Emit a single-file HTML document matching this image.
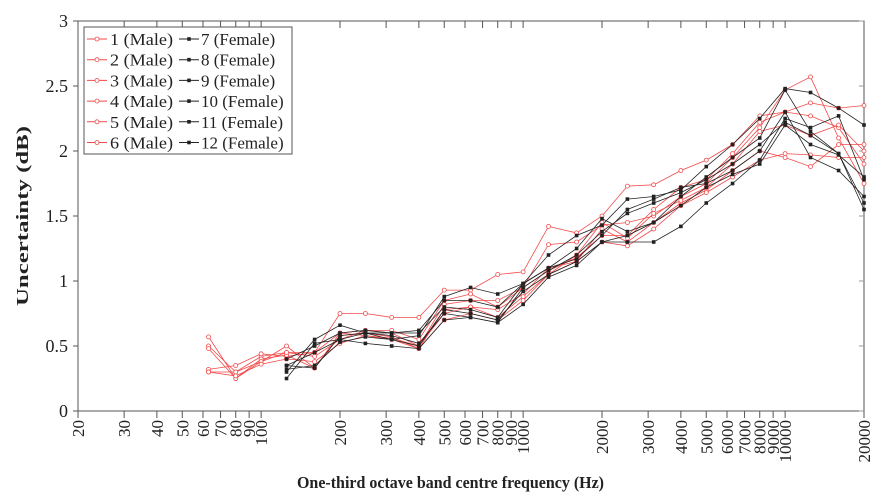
<!DOCTYPE html>
<html><head><meta charset="utf-8"><style>
body{margin:0;background:#fff}
svg{display:block;font-family:"Liberation Serif",serif}
</style></head><body>
<svg id="s" width="886" height="501" viewBox="0 0 886 501" xmlns="http://www.w3.org/2000/svg"></svg>
<script>
const s=document.getElementById('s');
const L=78,R=864,T=21,B=411;
const X=f=>L+262*Math.log10(f/20);
const Y=v=>B-130*v;
let h='';
h+=`<rect x="${L}" y="${T}" width="${R-L}" height="${B-T}" fill="none" stroke="#555" stroke-width="1"/>`;
for(let i=0;i<=6;i++){const v=i*0.5,y=Y(v);
h+=`<line x1="${L-5}" y1="${y}" x2="${L}" y2="${y}" stroke="#555"/><line x1="${R}" y1="${y}" x2="${R-5}" y2="${y}" stroke="#999"/>`;
h+=`<text x="${L-10}" y="${y+6}" font-size="18" text-anchor="end" fill="#222">${v}</text>`;}
const ticks=[20,30,40,50,60,70,80,90,100,200,300,400,500,600,700,800,900,1000,2000,3000,4000,5000,6000,7000,8000,9000,10000,20000];
ticks.forEach(f=>{const x=X(f);
h+=`<line x1="${x}" y1="${B}" x2="${x}" y2="${B+7}" stroke="#555"/><line x1="${x}" y1="${T}" x2="${x}" y2="${T+7}" stroke="#555"/>`;
h+=`<text transform="translate(${x+6},${B+9}) rotate(-90)" font-size="17" text-anchor="end" fill="#222">${f}</text>`;});
h+=`<text x="297" y="488" font-size="17" font-weight="bold" textLength="307" lengthAdjust="spacingAndGlyphs" fill="#222">One-third octave band centre frequency (Hz)</text>`;
h+=`<text transform="translate(28,306) rotate(-90)" font-size="17" font-weight="bold" textLength="180" lengthAdjust="spacingAndGlyphs" fill="#222">Uncertainty (dB)</text>`;
const F=[63,80,100,125,160,200,250,315,400,500,630,800,1000,1250,1600,2000,2500,3150,4000,5000,6300,8000,10000,12500,16000,20000];
const red=[
[0.5,0.3,0.42,0.45,0.45,0.75,0.75,0.72,0.72,0.93,0.93,1.05,1.07,1.42,1.37,1.5,1.73,1.74,1.85,1.93,2.05,2.27,2.3,2.37,2.33,2.35],
[0.57,0.25,0.38,0.5,0.33,0.6,0.62,0.6,0.5,0.82,0.85,0.85,0.95,1.28,1.3,1.43,1.45,1.5,1.65,1.75,1.95,2.18,2.47,2.57,2.1,1.75],
[0.32,0.35,0.44,0.42,0.45,0.6,0.58,0.55,0.48,0.78,0.8,0.78,0.9,1.1,1.15,1.4,1.3,1.45,1.6,1.7,1.85,2.0,1.95,1.88,2.05,2.05],
[0.48,0.25,0.4,0.43,0.33,0.58,0.6,0.57,0.48,0.7,0.75,0.7,0.85,1.05,1.15,1.3,1.27,1.4,1.58,1.68,1.8,1.93,1.98,1.97,1.95,1.95],
[0.3,0.3,0.38,0.45,0.42,0.55,0.62,0.62,0.55,0.85,0.9,0.8,0.95,1.08,1.18,1.35,1.35,1.55,1.72,1.78,1.98,2.22,2.3,2.27,2.18,1.9],
[0.3,0.27,0.36,0.4,0.38,0.52,0.58,0.56,0.5,0.75,0.8,0.72,0.88,1.05,1.2,1.45,1.33,1.52,1.62,1.72,1.9,2.15,2.2,2.12,2.2,2.0]];
const blk=[
[0.25,0.52,0.55,0.6,0.6,0.62,0.85,0.85,0.8,0.98,1.1,1.25,1.48,1.38,1.45,1.65,1.8,1.95,2.1,2.47,2.15,1.98,1.55],
[0.3,0.55,0.66,0.6,0.55,0.58,0.88,0.95,0.9,0.98,1.2,1.35,1.43,1.63,1.65,1.7,1.88,2.05,2.25,2.48,2.45,2.33,2.2],
[0.35,0.45,0.55,0.52,0.5,0.48,0.7,0.72,0.68,0.82,1.03,1.12,1.3,1.3,1.3,1.42,1.6,1.75,1.93,2.25,2.18,2.27,1.78],
[0.4,0.5,0.6,0.62,0.6,0.6,0.8,0.78,0.72,0.98,1.1,1.17,1.35,1.55,1.63,1.72,1.75,1.85,2.0,2.3,1.95,1.85,1.65],
[0.32,0.35,0.53,0.57,0.55,0.5,0.78,0.75,0.7,0.92,1.05,1.15,1.3,1.35,1.45,1.58,1.72,1.82,1.9,2.2,2.05,1.97,1.8],
[0.35,0.33,0.58,0.6,0.58,0.52,0.75,0.72,0.68,0.95,1.08,1.2,1.38,1.52,1.6,1.68,1.78,1.9,2.05,2.22,2.12,1.98,1.6]];
function mk(x,y,c,fill){return fill?`<rect x="${x-1.8}" y="${y-1.8}" width="3.6" height="3.6" fill="${c}"/>`:`<circle cx="${x}" cy="${y}" r="2" fill="#fff" stroke="${c}" stroke-width="0.8"/>`;}
function series(d,fr,c,fill){let p=d.map((v,i)=>X(fr[i]).toFixed(1)+','+Y(v).toFixed(1)).join(' ');
let o=`<polyline points="${p}" fill="none" stroke="${c}" stroke-width="0.8"/>`;
d.forEach((v,i)=>o+=mk(X(fr[i]),Y(v),c,fill));return o;}
red.forEach(d=>h+=series(d,F,'#f24a4a',false));
blk.forEach(d=>h+=series(d,F.slice(3),'#222',true));
h+=`<rect x="84" y="27" width="208" height="127" fill="#fff" stroke="#555"/>`;
for(let i=0;i<6;i++){const y=39+i*20.7;
h+=`<line x1="87" y1="${y}" x2="107" y2="${y}" stroke="#f24a4a"/>`+mk(97,y,'#f24a4a',false);
h+=`<text x="110" y="${y+6}" font-size="17" textLength="63" lengthAdjust="spacingAndGlyphs" fill="#222">${i+1} (Male)</text>`;
h+=`<line x1="179" y1="${y}" x2="199" y2="${y}" stroke="#222"/>`+mk(189,y,'#222',true);
h+=`<text x="201" y="${y+6}" font-size="17" fill="#222">${i+7} (Female)</text>`;}
s.innerHTML=h;
</script>
</body></html>
